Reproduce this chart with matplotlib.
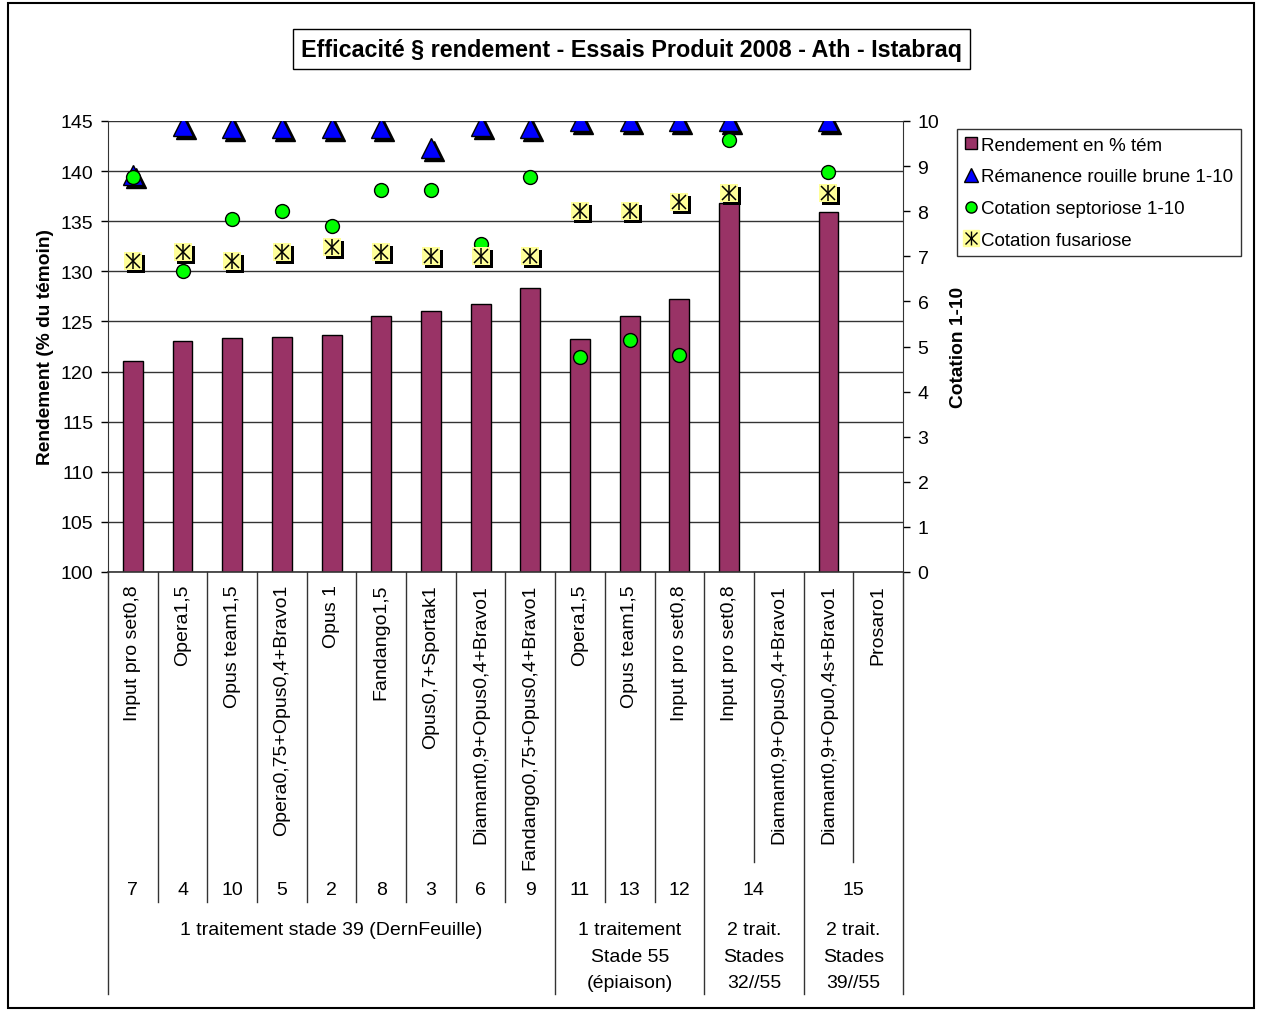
import numpy as np
import matplotlib.pyplot as plt
from matplotlib import transforms
from matplotlib.lines import Line2D
from matplotlib.patches import Rectangle

plt.rcParams.update({
    'font.family': ['Liberation Sans', 'DejaVu Sans'],
    'font.size': 14,
})

# --- data ---
categories = ['Input pro set0,8', 'Opera1,5', 'Opus team1,5', 'Opera0,75+Opus0,4+Bravo1',
              'Opus 1', 'Fandango1,5', 'Opus0,7+Sportak1', 'Diamant0,9+Opus0,4+Bravo1',
              'Fandango0,75+Opus0,4+Bravo1', 'Opera1,5', 'Opus team1,5', 'Input pro set0,8',
              'Input pro set0,8', 'Diamant0,9+Opus0,4+Bravo1', 'Diamant0,9+Opu0,4s+Bravo1',
              'Prosaro1']
rendement = [121.1, 123.0, 123.3, 123.4, 123.6, 125.5, 126.0, 126.7,
             128.3, 123.2, 125.5, 127.2, 136.8, np.nan, 135.9, np.nan]
remanence = [8.8, 9.9, 9.85, 9.85, 9.85, 9.85, 9.4, 9.9,
             9.85, 10.0, 10.0, 10.0, 10.0, np.nan, 10.0, np.nan]
septoriose = [8.75, 6.67, 7.83, 8.0, 7.67, 8.46, 8.46, 7.27,
              8.75, 4.76, 5.15, 4.82, 9.58, np.nan, 8.86, np.nan]
fusariose = [6.9, 7.1, 6.9, 7.1, 7.2, 7.1, 7.0, 7.0,
             7.0, 8.0, 8.0, 8.2, 8.4, np.nan, 8.4, np.nan]

# second level labels (text, first category, last category)
level2 = [('7', 0, 0), ('4', 1, 1), ('10', 2, 2), ('5', 3, 3), ('2', 4, 4), ('8', 5, 5),
          ('3', 6, 6), ('6', 7, 7), ('9', 8, 8), ('11', 9, 9), ('13', 10, 10),
          ('12', 11, 11), ('14', 12, 13), ('15', 14, 15)]
level3 = [('1 traitement stade 39 (DernFeuille)', 0, 8),
          ('1 traitement\nStade 55\n(épiaison)', 9, 11),
          ('2 trait.\nStades\n32//55', 12, 13),
          ('2 trait.\nStades\n39//55', 14, 15)]

W, H = 1263, 1012
fig = plt.figure(figsize=(W / 100, H / 100), dpi=100)

def fy(px):
    return 1 - px / H

x0, x1, ytop, ybot = 108, 903, 122, 573
ax = fig.add_axes([x0 / W, fy(ybot), (x1 - x0) / W, (ybot - ytop) / H])
x = np.arange(len(categories))

ax.bar(x, rendement, width=0.4, color='#993366', edgecolor='black', linewidth=1, zorder=2)
ax.set_xlim(-0.5, len(categories) - 0.5)
ax.set_ylim(100, 145)
ax.set_yticks(np.arange(100, 146, 5))
ax.set_xticks([])
ax.yaxis.grid(True, color='#333333', linewidth=1)
ax.set_axisbelow(True)
for s in ['top', 'bottom', 'right']:
    ax.spines[s].set_visible(False)
ax.spines['left'].set_color('#333333')
ax.tick_params(axis='y', direction='out', length=5, width=1, labelsize=14, pad=5.5)
ax.set_ylabel('Rendement (% du témoin)', fontsize=13.8, fontweight='bold', labelpad=5)

ax2 = ax.twinx()
ax2.set_ylim(0, 10)
ax2.set_yticks(np.arange(0, 11, 1))
for s in ['top', 'bottom', 'left']:
    ax2.spines[s].set_visible(False)
ax2.spines['right'].set_color('#333333')
ax2.tick_params(axis='y', direction='out', length=5, width=1, labelsize=14, pad=5.5)
ax2.set_ylabel('Cotation 1-10', fontsize=13.8, fontweight='bold', labelpad=8)

shadow = transforms.offset_copy(ax2.transData, fig=fig, x=3, y=-3, units='dots')

# rémanence triangles with shadow
ax2.plot(x, remanence, ls='none', marker='^', ms=14, color='black', transform=shadow, zorder=3)
ax2.plot(x, remanence, ls='none', marker='^', ms=14, mfc='#0000FF', mec='black', mew=1, zorder=4)
# septoriose circles
ax2.plot(x, septoriose, ls='none', marker='o', ms=10, mfc='#00FF00', mec='black', mew=1, zorder=5)
# fusariose : asterisk on yellow square with shadow
ax2.plot(x, fusariose, ls='none', marker='s', ms=13.5, color='black', mew=0, transform=shadow, zorder=6)
ax2.plot(x, fusariose, ls='none', marker='s', ms=13.5, mfc='#FFFF99', mec='#FFFF99', mew=0, zorder=7)
ax2.plot(x, fusariose, ls='none', marker='|', ms=11.5, color='black', mew=1.1, zorder=8)
ax2.plot(x, fusariose, ls='none', marker='x', ms=10, color='black', mew=1.1, zorder=8)

# category table below the axis
bt = transforms.blended_transform_factory(ax.transData, fig.transFigure)
for i, lab in enumerate(categories):
    fig.text(i, fy(585), lab, rotation=90, ha='center', va='top', fontsize=14, transform=bt)
for lab, a, b in level2:
    fig.text((a + b) / 2, fy(891), lab, ha='center', va='center', fontsize=14, transform=bt)
for lab, a, b in level3:
    fig.text((a + b) / 2, fy(922), lab, ha='center', va='top', fontsize=14,
             linespacing=1.75, transform=bt)

b2 = {b + 0.5 for _, _, b in level2} | {a - 0.5 for _, a, _ in level2}
b3 = {b + 0.5 for _, _, b in level3} | {a - 0.5 for _, a, _ in level3}
for k in range(len(categories) + 1):
    bx = k - 0.5
    if bx in b3:
        yend = 995
    elif bx in b2:
        yend = 903
    else:
        yend = 863
    fig.add_artist(Line2D([bx, bx], [fy(ybot), fy(yend)], color='#333333', lw=1, transform=bt))
ax.axhline(100, color='#333333', lw=1.2, clip_on=False, zorder=3)

# legend
handles = [
    Line2D([], [], ls='none', marker='s', ms=9, mfc='#993366', mec='black'),
    Line2D([], [], ls='none', marker='^', ms=10, mfc='#0000FF', mec='black'),
    Line2D([], [], ls='none', marker='o', ms=8, mfc='#00FF00', mec='black'),
    (Line2D([], [], ls='none', marker='s', ms=12, mfc='#FFFF99', mec='#FFFF99'),
     Line2D([], [], ls='none', marker='|', ms=10, color='black', mew=1),
     Line2D([], [], ls='none', marker='x', ms=9, color='black', mew=1)),
]
labels = ['Rendement en % tém', 'Rémanence rouille brune 1-10',
          'Cotation septoriose 1-10', 'Cotation fusariose']
leg = fig.legend(handles, labels, loc='upper left', bbox_to_anchor=(957 / W, fy(130)),
                 bbox_transform=fig.transFigure, fontsize=13.5, frameon=True, fancybox=False,
                 edgecolor='black', handlelength=0.7, handletextpad=0.2, labelspacing=0.78,
                 borderpad=0.4, borderaxespad=0)
leg.get_frame().set_linewidth(1)

# title
fig.text((293 + 970) / 2 / W, fy(50), 'Efficacité § rendement - Essais Produit 2008 - Ath - Istabraq',
         ha='center', va='center', fontsize=16.8, fontweight='bold',
         bbox=dict(boxstyle='square,pad=0.35', fc='white', ec='black', lw=1))

# outer chart border
fig.add_artist(Rectangle((8 / W, fy(1009)), (1254 - 8) / W, (1009 - 4) / H,
                         transform=fig.transFigure, fill=False, ec='black', lw=1.5))

fig.savefig('out.png', dpi=100)
